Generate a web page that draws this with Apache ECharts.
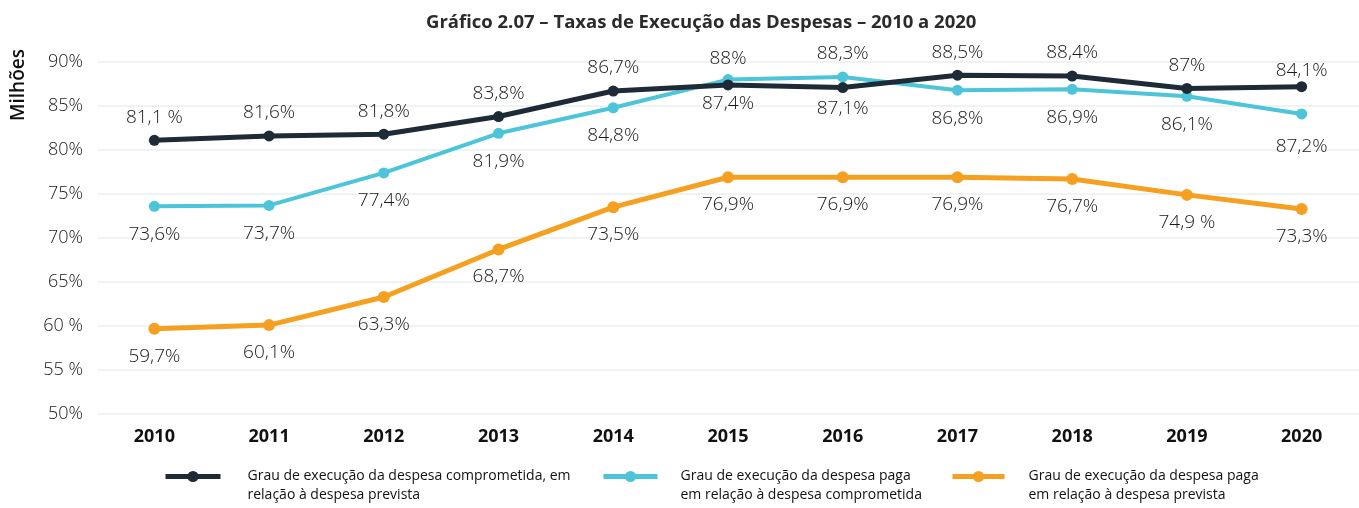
<!DOCTYPE html>
<html>
<head>
<meta charset="utf-8">
<script src="https://cdn.jsdelivr.net/npm/echarts@6/dist/echarts.min.js"></script>
<style>
html,body{margin:0;padding:0;background:#fff;}
#chart{width:1359px;height:508px;}
</style>
</head>
<body>
<div id="chart"></div>
<script>
// ---- data ----
const years = ['2010','2011','2012','2013','2014','2015','2016','2017','2018','2019','2020'];
const comprometida = [81.1, 81.6, 81.8, 83.8, 86.7, 87.4, 87.1, 88.5, 88.4, 87.0, 87.2];
const pagaComprometida = [73.6, 73.7, 77.4, 81.9, 84.8, 88.0, 88.3, 86.8, 86.9, 86.1, 84.1];
const pagaPrevista = [59.7, 60.1, 63.3, 68.7, 73.5, 76.9, 76.9, 76.9, 76.7, 74.9, 73.3];
const labelsComprometida = ['81,1 %','81,6%','81,8%','83,8%','86,7%','87,4%','87,1%','88,5%','88,4%','87%','87,2%'];
const labelsPagaComprometida = ['73,6%','73,7%','77,4%','81,9%','84,8%','88%','88,3%','86,8%','86,9%','86,1%','84,1%'];
const labelsPagaPrevista = ['59,7%','60,1%','63,3%','68,7%','73,5%','76,9%','76,9%','76,9%','76,7%','74,9 %','73,3%'];
const yTickLabels = ['50%','55 %','60 %','65%','70%','75%','80%','85%','90%'];
const seriesNames = [
  'Grau de execução da despesa comprometida, em relação à despesa prevista',
  'Grau de execução da despesa paga em relação à despesa comprometida',
  'Grau de execução da despesa paga em relação à despesa prevista'
];
const legendLines = [
  ['Grau de execução da despesa comprometida, em', 'relação à despesa prevista'],
  ['Grau de execução da despesa paga', 'em relação à despesa comprometida'],
  ['Grau de execução da despesa paga', 'em relação à despesa prevista']
];
const titleText = 'Gráfico 2.07 – Taxas de Execução das Despesas – 2010 a 2020';

// ---- styles ----
const FONT = '"Open Sans", "DejaVu Sans", sans-serif';
const colors = ['#1f2a37', '#4cc4d9', '#f6a022'];
const labelBase = {show: true, fontFamily: FONT, fontSize: 19, fontWeight: 300, color: '#1a1a1a'};

function mkData(values, labels, placement) {
  return values.map((v, i) => {
    const p = placement[i];
    return {
      value: v,
      label: Object.assign({}, labelBase, {position: p[0], distance: p[1], formatter: labels[i]})
    };
  });
}
const placeDark = years.map(() => ['top', 8]);
placeDark[5] = ['bottom', 4]; placeDark[6] = ['bottom', 6]; placeDark[10] = ['bottom', 45];
const placeCyan = years.map(() => ['bottom', 13]);
placeCyan[5] = ['top', 6]; placeCyan[6] = ['top', 8]; placeCyan[10] = ['top', 28];
const placeOrange = years.map(() => ['bottom', 12]);

const chart = echarts.init(document.getElementById('chart'));
const legendTextStyle = {fontFamily: FONT, fontSize: 14, lineHeight: 19, color: '#111'};
function legendFor(i, left, itemWidth, pad) {
  return {
    data: [seriesNames[i]], left: left, top: 448, padding: 0,
    itemWidth: itemWidth, itemHeight: 14,
    selectedMode: false,
    lineStyle: {width: 5},
    formatter: () => '{g|}\n{t|' + legendLines[i][0] + '}\n{t|' + legendLines[i][1] + '}',
    textStyle: Object.assign({}, legendTextStyle, {
      rich: {
        g: {height: 19, lineHeight: 19},
        t: Object.assign({}, legendTextStyle, {padding: [0, 0, 0, pad]})
      }
    })
  };
}
chart.setOption({
  animation: false,
  backgroundColor: '#fff',
  title: {text: titleText, left: 421, top: 8,
    textStyle: {fontFamily: FONT, fontSize: 18.5, fontWeight: 'bold', color: '#2b2b2b'}},
  graphic: [{
    type: 'text', x: 19, y: 85, rotation: Math.PI / 2,
    style: {text: 'Milhões', font: '600 19px "Open Sans", sans-serif', fill: '#111', align: 'center', verticalAlign: 'middle'}
  }],
  legend: [legendFor(0, 163, 55, 22), legendFor(1, 601, 54, 18), legendFor(2, 950, 52, 19)],
  grid: {left: 97, right: 0, top: 62, height: 352, containLabel: false},
  xAxis: {
    type: 'category', data: years, boundaryGap: true,
    axisLine: {show: false}, axisTick: {show: false},
    axisLabel: {fontFamily: FONT, fontSize: 18, fontWeight: 'bold', color: '#111', margin: 14}
  },
  yAxis: {
    type: 'value', min: 50, max: 90, interval: 5,
    axisLine: {show: false}, axisTick: {show: false},
    axisLabel: {fontFamily: FONT, fontSize: 18, fontWeight: 300, color: '#1a1a1a', margin: 14,
      formatter: v => yTickLabels[Math.round((v - 50) / 5)]},
    splitLine: {lineStyle: {color: '#eef4f3', width: 2}}
  },
  series: [
    {name: seriesNames[0], type: 'line', data: mkData(comprometida, labelsComprometida, placeDark),
     symbol: 'circle', symbolSize: 11, z: 4,
     lineStyle: {color: colors[0], width: 5}, itemStyle: {color: colors[0]}},
    {name: seriesNames[1], type: 'line', data: mkData(pagaComprometida, labelsPagaComprometida, placeCyan),
     symbol: 'circle', symbolSize: 11, z: 3,
     lineStyle: {color: colors[1], width: 4}, itemStyle: {color: colors[1]}},
    {name: seriesNames[2], type: 'line', data: mkData(pagaPrevista, labelsPagaPrevista, placeOrange),
     symbol: 'circle', symbolSize: 12, z: 2,
     lineStyle: {color: colors[2], width: 5}, itemStyle: {color: colors[2]}}
  ]
});
</script>
</body>
</html>
